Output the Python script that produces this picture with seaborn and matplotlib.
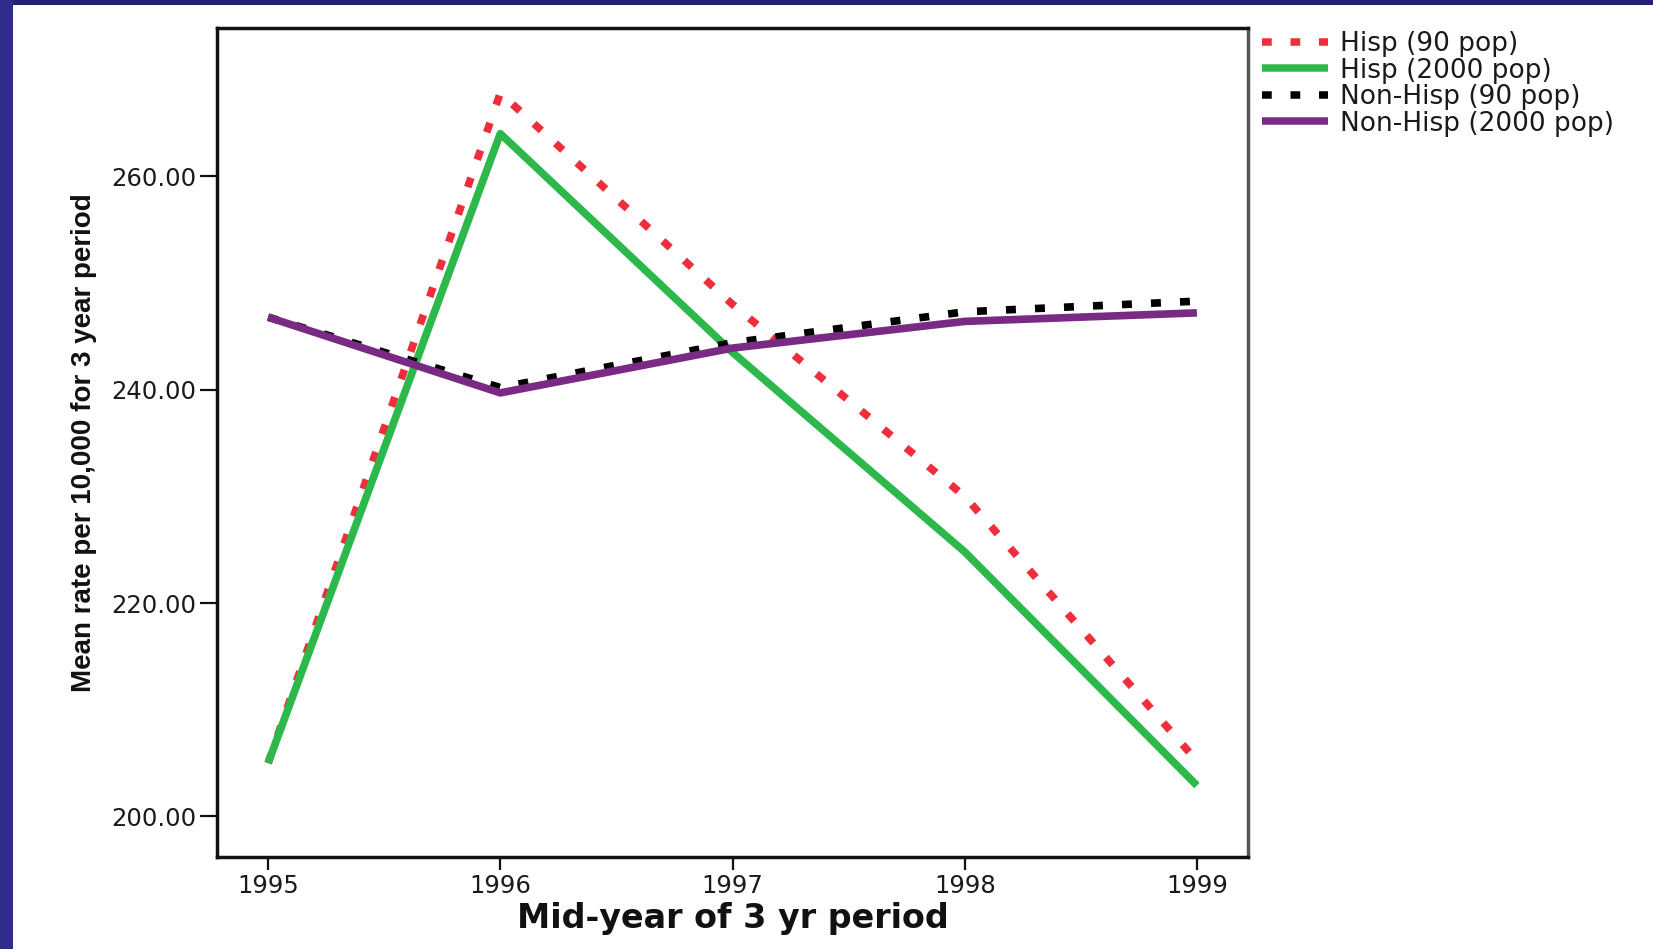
import numpy as np
import pandas as pd
import matplotlib
matplotlib.use("Agg")
import matplotlib.pyplot as plt
import seaborn as sns
from matplotlib import font_manager as fm
from matplotlib.patches import Rectangle

# ---------------- data ----------------
years = [1995, 1996, 1997, 1998, 1999]
hisp_90 = [205.0, 267.8, 248.0, 230.0, 205.2]
hisp_2000 = [205.0, 264.0, 243.5, 224.8, 202.9]
nonhisp_90 = [246.8, 240.2, 244.4, 247.3, 248.3]
nonhisp_2000 = [246.8, 239.7, 243.9, 246.4, 247.2]

series_names = ["Hisp (90 pop)", "Hisp (2000 pop)", "Non-Hisp (90 pop)", "Non-Hisp (2000 pop)"]
series_colors = ["#ee2f3b", "#2cb84b", "#000000", "#7a2a84"]
x_ticks = [1995, 1996, 1997, 1998, 1999]
y_ticks = [200, 220, 240, 260]
x_label = "Mid-year of 3 yr period"
y_label = "Mean rate per 10,000 for 3 year period"

sns.set_theme(style="white")
plt.rcParams['font.family'] = ['DejaVu Sans']

df = pd.DataFrame({
    "year": years * 4,
    "value": hisp_90 + hisp_2000 + nonhisp_90 + nonhisp_2000,
    "series": np.repeat(series_names, len(years)),
})

W, H = 1653, 949
fig = plt.figure(figsize=(W / 100, H / 100), dpi=100, facecolor="#262270")
# dark slide frame: left strip a bit bluer
fig.add_artist(Rectangle((0, 0), 13 / W, 1, transform=fig.transFigure,
                         facecolor="#302c8e", edgecolor="none", zorder=-2))
fig.add_artist(Rectangle((13 / W, 0), 1 - 13 / W, 1 - 5 / H, transform=fig.transFigure,
                         facecolor="white", edgecolor="none", zorder=-1))

ax = fig.add_axes([217 / W, 1 - 857 / H, 1031 / W, 829 / H])
ax.set_facecolor("white")

dash_map = {
    "Hisp (90 pop)": (1.3, 2.5),
    "Hisp (2000 pop)": "",
    "Non-Hisp (90 pop)": (1.3, 2.5),
    "Non-Hisp (2000 pop)": "",
}
sns.lineplot(data=df, x="year", y="value", hue="series", style="series",
             hue_order=series_names, style_order=series_names,
             palette=dict(zip(series_names, series_colors)),
             dashes=dash_map, linewidth=5.5, sort=False, ax=ax, legend=True)

for ln in ax.lines:
    ln.set_dash_capstyle("butt")
    ln.set_solid_capstyle("butt")

handles, labels = ax.get_legend_handles_labels()
if ax.get_legend() is not None:
    ax.get_legend().remove()
for h in handles:
    h.set_linewidth(5.4)

ax.set_xlim(1994.78, 1999.22)
ax.set_ylim(196.2, 273.9)
ax.set_xticks(x_ticks)
ax.set_xticklabels([str(v) for v in x_ticks])
ax.set_yticks(y_ticks)
ax.set_yticklabels([f"{v:.2f}" for v in y_ticks])
ax.grid(False)

for name, s in ax.spines.items():
    s.set_visible(True)
    s.set_linewidth(2.5)
    s.set_color("#111111" if name in ("left", "bottom", "top") else "#555555")

ax.tick_params(axis="x", bottom=True, direction="out", length=9.5, width=1.6,
               color="#111111", labelsize=17.5, labelcolor="#1a1a1a", pad=3)
ax.tick_params(axis="y", left=True, direction="out", length=12, width=1.6,
               color="#111111", labelsize=17.5, labelcolor="#1a1a1a", pad=3)

ax.set_xlabel(x_label, fontsize=24, fontweight="bold", color="#111111")
ax.xaxis.set_label_coords(0.5, -0.054)

font_names = {f.name for f in fm.fontManager.ttflist}
if "Liberation Sans Narrow" in font_names:
    ylab_family, ylab_size = ["Liberation Sans Narrow", "DejaVu Sans"], 24.5
else:
    ylab_family, ylab_size = ["Liberation Sans", "DejaVu Sans"], 20
ax.set_ylabel(y_label, fontsize=ylab_size, fontweight="bold", family=ylab_family,
              color="#111111")
ax.yaxis.set_label_coords(-0.1164, 0.5)

fig.legend(handles, labels, loc="upper left",
           bbox_to_anchor=(1262 / W, 1 - 31 / H), bbox_transform=fig.transFigure,
           frameon=False, fontsize=19, handlelength=2.5, handletextpad=0.45,
           labelspacing=0.02, borderpad=0, borderaxespad=0, labelcolor="#1a1a1a")

fig.savefig("out.png", dpi=100, facecolor=fig.get_facecolor())
